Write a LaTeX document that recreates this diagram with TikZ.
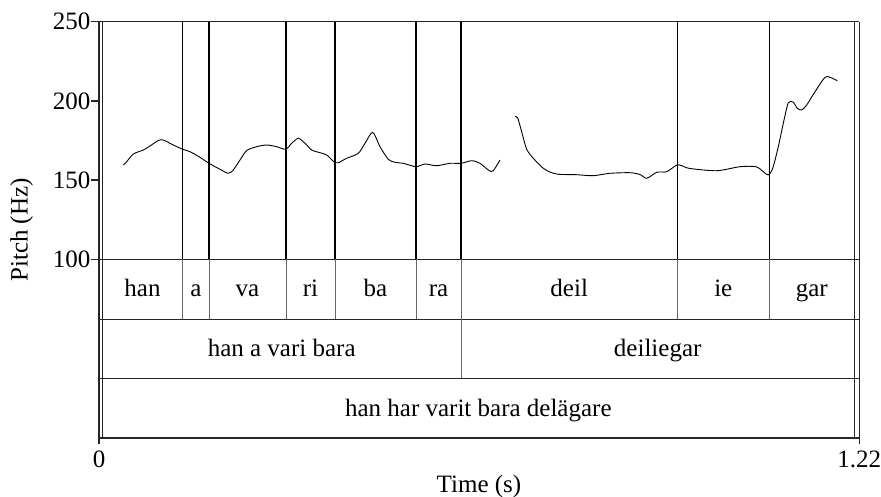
\documentclass[tikz,border=0pt]{standalone}
\usepackage{fontspec}
\setmainfont{Liberation Serif}
\begin{document}
\begin{tikzpicture}[x=1pt,y=-1pt,
  font=\fontsize{25}{29}\selectfont,
  frame/.style={line width=1.4pt, black!85},
  bound/.style={line width=1.3pt, black},
  tierline/.style={line width=1pt, black!60},
  pitchline/.style={line width=0.9pt, black, line join=round},
  lab/.style={inner sep=0pt},
  syl/.style={inner sep=0pt, anchor=base}]
\useasboundingbox (0,0) rectangle (881,496);
% outer and inner frame
\draw[frame] (99,21.7) -- (859.3,21.7);
\draw[frame] (99,21.7) -- (99,444);
\draw[frame] (859.3,21.7) -- (859.3,444);
\draw[frame] (102.3,21.7) -- (102.3,438);
\draw[frame] (854.3,21.7) -- (854.3,438);
\draw[frame] (99,438) -- (859.3,438);
\draw[frame] (91,259.3) -- (859.3,259.3);
\draw[frame] (99,319.3) -- (859.3,319.3);
\draw[frame] (99,378.3) -- (859.3,378.3);
% y ticks
\foreach \yy/\lbl in {21.7/250, 100.9/200, 180.1/150, 259.3/100}{
  \draw[frame] (91,\yy) -- (99,\yy);
  \node[lab, anchor=east] (y\lbl) at (90.5,\yy) {\lbl};
}
% boundaries
\foreach \xx in {182.7,209,286,335,416,677.3,769.3}{
  \draw[bound] (\xx,21.7) -- (\xx,259.3);
  \draw[tierline] (\xx,259.3) -- (\xx,319.3);
}
\draw[bound] (461,21.7) -- (461,259.3);
\draw[tierline] (461,259.3) -- (461,378.3);
% pitch contour
\draw[pitchline] plot[smooth, tension=0.45] coordinates {
 (123.3,165) (126.7,161.7) (133.3,154) (143.3,150) (150,146) (158.3,140.5) (163.3,140) (173.3,145) (182.7,149.3) (190,151.7) (200,157.3) (209,163.3) (220,169.3) (228.3,173.3) (233.3,170) (240,160) (246.7,150.5) (256.7,146.7) (266.7,145) (276.7,146.7) (285.7,149.3) (291.7,143.3) (298.3,138.3) (305,143.3) (311.7,150) (320,152.7) (326.7,155) (335,162.7) (338.3,162.7) (346.7,158.3) (358.3,153.3) (365,143.3) (372.7,132.3) (380,146.7) (388.3,159.3) (395,162.3) (403.3,163.3) (416,166.7) (425,164) (436.7,165.7) (450,163.3) (461,163.3) (471.7,160.7) (480,163.3) (489.3,170.7) (493.3,170.7) (500,160)};
\draw[pitchline] plot[smooth, tension=0.45] coordinates {
 (515,116.7) (517.7,118) (522,133) (526.7,149.3) (533.3,158.3) (543.3,168.3) (550,172) (558.3,174.3) (576.7,174.7) (593.3,175.7) (610,173.3) (630,172.7) (640,174.5) (646.7,178.3) (656.7,172.3) (666.7,171.7) (676.7,165) (681.7,165.7) (690,168.5) (716.7,170.7) (740,166.7) (756,166.7) (763.3,171.7) (768.3,175) (772.7,168.3) (778.3,146.7) (783.3,123.3) (788.3,102.7) (793.3,102.3) (797.3,108.3) (801.7,110) (806.7,105) (815,91.7) (825,77.3) (830,77.3) (837.3,80.7)};
% tier 1 labels
\node[syl] (s1) at (142.5,296.7) {han};
\node[syl] (s2) at (195.9,296.7) {a};
\node[syl] (s3) at (247.5,296.7) {va};
\node[syl] (s4) at (310.5,296.7) {ri};
\node[syl] (s5) at (375.5,296.7) {ba};
\node[syl] (s6) at (438.5,296.7) {ra};
\node[syl] (s7) at (569.2,296.7) {deil};
\node[syl] (s8) at (723.3,296.7) {ie};
\node[syl] (s9) at (811.8,296.7) {gar};
% tier 2 labels
\node[syl] (w1) at (281.7,356.5) {han a vari bara};
\node[syl] (w2) at (657.7,356.5) {deiliegar};
% tier 3 label
\node[syl] (u1) at (478.3,416) {han har varit bara delägare};
% axis labels
\node[lab] (x0) at (99,459.5) {0};
\node[lab] (x1) at (859.3,459.5) {1.22};
\node[lab] (xt) at (479,486) {Time (s)};
\node[lab, rotate=90] (yt) at (21.7,230) {Pitch (Hz)};
\end{tikzpicture}
\end{document}
